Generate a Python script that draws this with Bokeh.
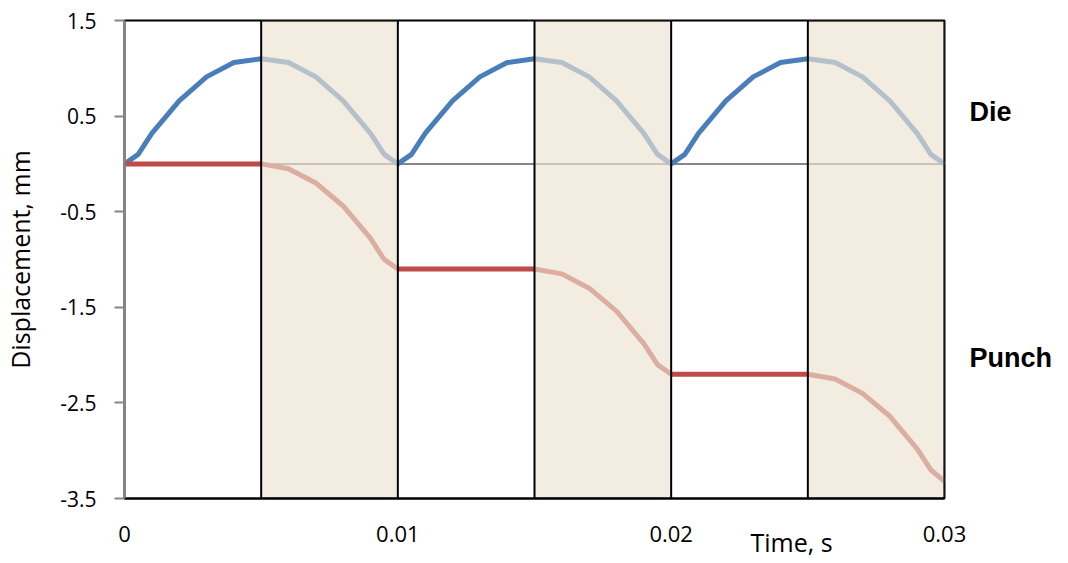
from bokeh.plotting import figure
from bokeh.models import Range1d, FixedTicker, Span, LinearAxis, Title
from bokeh.embed import file_html
from bokeh.resources import INLINE

# ---- data ----
time_s = [0, 0.0005, 0.001, 0.002, 0.003, 0.004, 0.005, 0.006, 0.007, 0.008, 0.009, 0.0095, 0.01,
          0.0105, 0.011, 0.012, 0.013, 0.014, 0.015, 0.016, 0.017, 0.018, 0.019, 0.0195, 0.02,
          0.0205, 0.021, 0.022, 0.023, 0.024, 0.025, 0.026, 0.027, 0.028, 0.029, 0.0295, 0.03]
die_mm = [0, 0.1, 0.32, 0.66, 0.91, 1.06, 1.1, 1.06, 0.91, 0.66, 0.32, 0.1, 0,
          0.1, 0.32, 0.66, 0.91, 1.06, 1.1, 1.06, 0.91, 0.66, 0.32, 0.1, 0,
          0.1, 0.32, 0.66, 0.91, 1.06, 1.1, 1.06, 0.91, 0.66, 0.32, 0.1, 0]
punch_mm = [0, 0, 0, 0, 0, 0, 0, -0.05, -0.2, -0.44, -0.78, -1.0, -1.1,
            -1.1, -1.1, -1.1, -1.1, -1.1, -1.1, -1.15, -1.3, -1.54, -1.88, -2.1, -2.2,
            -2.2, -2.2, -2.2, -2.2, -2.2, -2.2, -2.25, -2.4, -2.64, -2.98, -3.2, -3.32]

shade_start = [0.005, 0.015, 0.025]
shade_end = [0.01, 0.02, 0.03]

x_ticks = [0, 0.01, 0.02, 0.03]
x_tick_labels = ["0", "0.01", "0.02", "0.03"]
y_ticks = [1.5, 0.5, -0.5, -1.5, -2.5, -3.5]
y_tick_labels = ["1.5", "0.5", "-0.5", "-1.5", "-2.5", "-3.5"]

series_names = ["Die", "Punch"]
series_label_y = [0.54, -2.03]   # where the names sit to the right of the plot

x_min, x_max = 0, 0.03
y_min, y_max = -3.5, 1.5

FONT = "Open Sans"
GRAY = "#868686"

p = figure(frame_width=820, frame_height=478, output_backend="svg", toolbar_location=None,
           x_range=Range1d(x_min, x_max), y_range=Range1d(y_min, y_max),
           min_border_left=122, min_border_right=118, min_border_top=20, min_border_bottom=63,
           background_fill_color="white", border_fill_color="white")
p.xgrid.visible = False
p.ygrid.visible = False
p.outline_line_color = "black"
p.outline_line_width = 2

# zero line (Excel horizontal axis)
p.add_layout(Span(location=0, dimension="width", line_color=GRAY, line_width=2, level="underlay"))

# data lines
p.line(time_s, die_mm, line_color="#4A7EBB", line_width=5)
p.line(time_s, punch_mm, line_color="#BE4B48", line_width=5)

# shaded boxes (semi-transparent beige over the curves)
p.quad(left=shade_start, right=shade_end, bottom=y_min, top=y_max,
       fill_color="#ECE2D2", fill_alpha=0.66, line_color="black", line_width=2)

# x axis
xa = p.xaxis[0]
xa.ticker = FixedTicker(ticks=x_ticks)
xa.major_label_overrides = {t: s for t, s in zip(x_ticks, x_tick_labels)}
xa.major_tick_out = 0
xa.major_tick_in = 0
xa.minor_tick_out = 0
xa.minor_tick_in = 0
xa.axis_line_color = "black"
xa.axis_line_width = 2
xa.major_label_text_font = FONT
xa.major_label_text_font_size = "22px"
xa.major_label_text_color = "black"
xa.major_label_standoff = 27

# y axis
ya = p.yaxis[0]
ya.ticker = FixedTicker(ticks=y_ticks)
ya.major_label_overrides = {t: s for t, s in zip(y_ticks, y_tick_labels)}
ya.major_tick_out = 10
ya.major_tick_in = 0
ya.minor_tick_out = 0
ya.minor_tick_in = 0
ya.major_tick_line_color = GRAY
ya.major_tick_line_width = 2
ya.axis_line_color = GRAY
ya.axis_line_width = 2
ya.major_label_text_font = FONT
ya.major_label_text_font_size = "21px"
ya.major_label_text_color = "black"
ya.major_label_standoff = 18
ya.axis_label = "Displacement, mm"
ya.axis_label_text_font = FONT
ya.axis_label_text_font_size = "25px"
ya.axis_label_text_font_style = "normal"
ya.axis_label_text_color = "black"
ya.axis_label_standoff = 20

# series names on the right (as an axis without line/ticks)
ra = LinearAxis(ticker=FixedTicker(ticks=series_label_y),
                major_label_overrides={v: n for v, n in zip(series_label_y, series_names)},
                axis_line_color=None, major_tick_out=0, major_tick_in=0,
                minor_tick_out=0, minor_tick_in=0, major_label_standoff=25,
                major_label_text_font="Liberation Sans", major_label_text_font_style="bold",
                major_label_text_font_size="27px", major_label_text_color="black")
p.add_layout(ra, "right")

# x axis title, placed to the right like in the reference
p.add_layout(Title(text="Time, s", align="left", offset=626, standoff=-40, vertical_align="top",
                   text_font=FONT, text_font_size="25px", text_font_style="normal",
                   text_color="black"), "below")

open("out.html", "w").write(file_html(p, INLINE))
